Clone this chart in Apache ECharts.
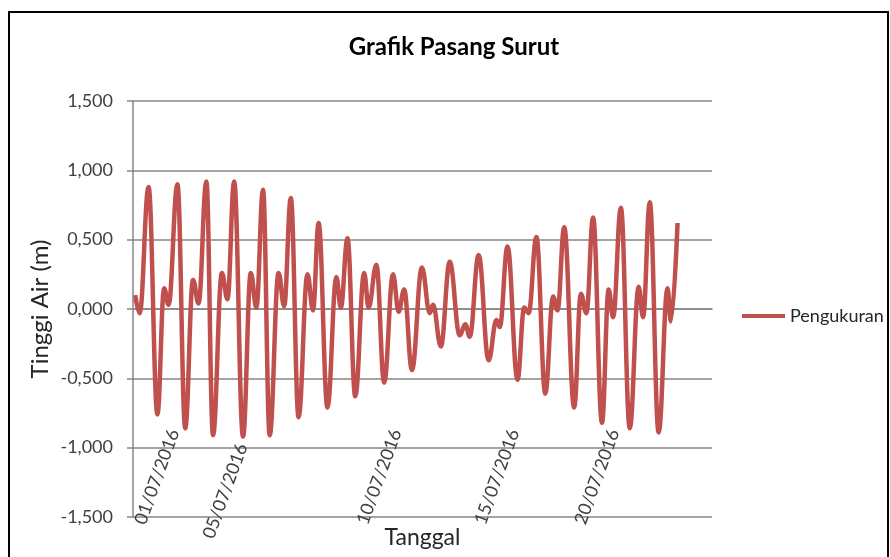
<!DOCTYPE html>
<html>
<head>
<meta charset="utf-8">
<script src="https://cdn.jsdelivr.net/npm/echarts@6/dist/echarts.min.js"></script>
<style>
  html, body { margin: 0; padding: 0; background: #fff; }
  #chart { width: 890px; height: 557px; }
</style>
</head>
<body>
<div id="chart"></div>
<script>
// jam ke- (titik balik pasang/surut yang dibaca dari grafik)
const jam = [
  2, 6, 14, 22, 28, 32, 40, 47, 54, 59,
  66, 72, 80, 85, 91, 99, 106, 111, 117, 123,
  131, 136, 142, 149, 157, 162, 167, 175, 183, 187,
  193, 200, 208, 212, 219, 226, 234, 239, 244, 251,
  260, 267, 270, 277, 285, 294, 299, 303, 311, 320,
  327, 330, 337, 346, 352, 356, 363, 371, 378, 382,
  388, 397, 403, 408, 414, 422, 428, 432, 439, 447,
  455, 459, 465, 473, 481, 484, 490
];
// tinggi air (m)
const tinggi = [
  0.10, -0.03, 0.88, -0.76, 0.15, 0.03, 0.90, -0.86, 0.21, 0.04,
  0.92, -0.91, 0.26, 0.07, 0.92, -0.92, 0.26, 0.01, 0.86, -0.91,
  0.26, 0.02, 0.80, -0.78, 0.25, -0.01, 0.62, -0.71, 0.23, 0.01,
  0.51, -0.63, 0.26, 0.01, 0.32, -0.53, 0.25, -0.02, 0.14, -0.44,
  0.30, -0.03, 0.03, -0.27, 0.34, -0.19, -0.11, -0.20, 0.39, -0.37,
  -0.08, -0.13, 0.45, -0.51, 0.01, -0.03, 0.52, -0.61, 0.09, -0.01,
  0.59, -0.71, 0.11, -0.03, 0.66, -0.82, 0.14, -0.06, 0.73, -0.86,
  0.16, -0.06, 0.77, -0.89, 0.15, -0.09, 0.62
];
// label tanggal di sumbu x
const tanggalJam = [37, 103, 237, 343, 433];
const tanggalLabel = ['01/07/2016', '05/07/2016', '10/07/2016', '15/07/2016', '20/07/2016'];

const FONT = 'Lato, "Open Sans", sans-serif';
const chart = echarts.init(document.getElementById('chart'));

const option = {
  animation: false,
  backgroundColor: '#fff',
  title: {
    text: 'Grafik Pasang Surut',
    left: 449,
    textAlign: 'center',
    top: 30,
    textStyle: { fontFamily: FONT, fontWeight: 'bold', fontSize: 24, color: '#000' }
  },
  legend: {
    data: ['Pengukuran'],
    left: 742,
    top: 307,
    padding: 0,
    icon: 'rect',
    itemWidth: 43,
    itemHeight: 4,
    itemGap: 5,
    textStyle: { fontFamily: FONT, fontSize: 18, color: '#262626' }
  },
  grid: { left: 133, right: 178, top: 101, bottom: 40, containLabel: false, outerBoundsMode: 'none' },
  xAxis: {
    type: 'value',
    min: 0,
    max: 521,
    name: 'Tanggal',
    nameLocation: 'middle',
    nameGap: 9,
    nameMoveOverlap: false,
    nameTextStyle: { fontFamily: FONT, fontSize: 23, color: '#262626', verticalAlign: 'top' },
    axisLine: { show: true, lineStyle: { color: '#868686', width: 1.5 } },
    axisTick: { show: false },
    splitLine: { show: false },
    axisLabel: {
      customValues: tanggalJam,
      rotate: 70,
      margin: -87,
      fontFamily: FONT,
      fontSize: 18,
      color: '#404040',
      formatter: function (v) {
        const i = tanggalJam.indexOf(v);
        if (i < 0) return '';
        return i === 1 ? '{g|' + tanggalLabel[i] + '}' : tanggalLabel[i];
      },
      rich: {
        g: { fontFamily: FONT, fontSize: 18, color: '#404040', padding: [0, 15, 0, 0] }
      }
    }
  },
  yAxis: {
    type: 'value',
    min: -1.5,
    max: 1.5,
    interval: 0.5,
    name: 'Tinggi Air (m)',
    nameLocation: 'middle',
    nameGap: 81,
    nameMoveOverlap: false,
    nameTextStyle: { fontFamily: FONT, fontSize: 24, color: '#262626' },
    axisLine: { show: true, lineStyle: { color: '#868686', width: 1.5 } },
    axisTick: { show: true, length: 6, lineStyle: { color: '#868686', width: 1.5 } },
    splitLine: { lineStyle: { color: '#868686', width: 1.5 } },
    axisLabel: {
      margin: 20,
      fontFamily: FONT,
      fontSize: 18,
      color: '#404040',
      formatter: v => v.toFixed(3).replace('.', ',')
    }
  },
  series: [{
    name: 'Pengukuran',
    type: 'line',
    data: jam.map((j, i) => [j, tinggi[i]]),
    smooth: 0.4,
    smoothMonotone: 'x',
    symbol: 'none',
    lineStyle: { color: '#C0504D', width: 4.5 },
    itemStyle: { color: '#C0504D' }
  }],
  graphic: [{
    type: 'rect',
    shape: { x: 9, y: 12, width: 879, height: 600 },
    style: { fill: null, stroke: '#000', lineWidth: 2 },
    silent: true
  }]
};
chart.setOption(option);
</script>
</body>
</html>
